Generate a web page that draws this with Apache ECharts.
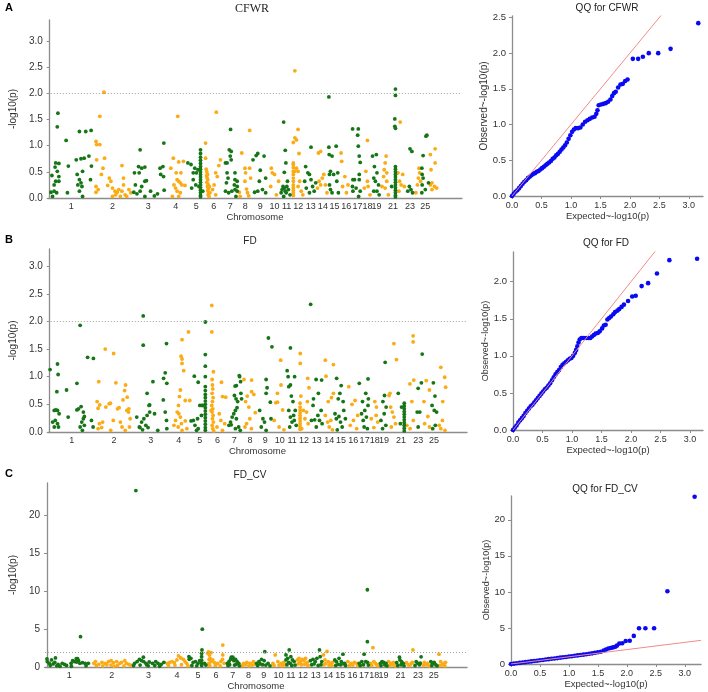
<!DOCTYPE html>
<html>
<head>
<meta charset="utf-8">
<title>Manhattan and QQ plots</title>
<script src="https://cdn.jsdelivr.net/npm/echarts@6/dist/echarts.min.js"></script>
<style>
  html, body { margin: 0; padding: 0; background: #fff; }
  #chart { width: 708px; height: 692px; }
</style>
</head>
<body>
<div id="chart"></div>
<script>
// chromosome lengths (Mb) and which chromosome numbers get a tick label
const chrLen = [273, 249, 204, 144, 114, 108, 99, 93, 96, 84, 69, 78, 81, 72, 75, 75, 66, 60, 54, 51, 54, 54, 51, 48, 48, 54]
const chrLabels = [1, 2, 3, 4, 5, 6, 7, 8, 9, 10, 11, 12, 13, 14, 15, 16, 17, 18, 19, 21, 23, 25]
const threshold = 2

// [chromosome, position (Mb), -log10(p)]
const cfwrSnps = [
  [1,52,1.62],[1,48,1.36],[1,104,1.10],[1,188,1.27],[1,228,1.27],[1,262,1.29],[1,38,0.67],[1,58,0.66],[1,34,0.59],[1,48,0.51],[1,58,0.41],[1,14,0.43],[1,38,0.32],[1,58,0.32],[1,28,0.25],[1,28,0.13],[1,8,0.11],[1,44,0.10],[1,112,0.10],[1,118,0.61],[1,168,0.73],[1,198,0.75],[1,218,0.76],[1,248,0.80],[1,264,0.61],[1,174,0.45],[1,208,0.51],[1,188,0.35],[1,198,0.29],[1,178,0.25],[1,204,0.22],[1,208,0.03],[1,188,0.13],[1,258,0.35],[1,18,0.03],
  [2,70,2.02],[2,44,1.56],[2,20,1.08],[2,24,1.02],[2,44,1.02],[2,74,0.76],[2,64,0.57],[2,54,0.45],[2,24,0.73],[2,20,0.22],[2,34,0.16],[2,20,0.11],[2,104,0.38],[2,114,0.32],[2,94,0.24],[2,124,0.19],[2,140,0.13],[2,154,0.11],[2,164,0.16],[2,184,0.62],[2,194,0.38],[2,194,0.25],[2,184,0.13],[2,204,0.06],[2,214,0.03],[2,228,0.16],[2,174,0.03],[2,124,0.03],[2,144,0.06],[2,240,0.10],
  [3,50,0.92],[3,14,0.48],[3,40,0.60],[3,60,0.57],[3,80,0.59],[3,44,0.48],[3,80,0.32],[3,90,0.33],[3,10,0.11],[3,30,0.08],[3,50,0.13],[3,80,0.03],[3,116,0.13],[3,140,0.04],[3,176,0.57],[3,180,0.45],[3,200,1.05],[3,194,0.60],[3,198,0.41],[3,20,0.25],[3,60,0.22],[3,202,0.15],[3,160,0.08],
  [4,84,1.56],[4,56,0.76],[4,90,0.69],[4,120,0.70],[4,40,0.57],[4,74,0.48],[4,104,0.48],[4,80,0.35],[4,90,0.32],[4,100,0.29],[4,110,0.25],[4,70,0.19],[4,80,0.13],[4,100,0.10],[4,50,0.03],[4,130,0.24],[4,90,0.03],[4,60,0.25],
  [5,4,0.67],[5,24,0.64],[5,38,0.48],[5,38,0.35],[5,28,0.19],[5,48,0.57],[5,68,0.54],[5,58,0.48],[5,54,0.25],[5,74,0.22],[5,84,0.92],[5,84,0.85],[5,84,0.78],[5,84,0.72],[5,84,0.66],[5,84,0.60],[5,84,0.55],[5,84,0.50],[5,84,0.45],[5,84,0.40],[5,84,0.35],[5,84,0.30],[5,84,0.25],[5,84,0.20],[5,84,0.15],[5,84,0.10],[5,84,0.05],[5,84,0.02],[5,98,0.13],
  [6,70,1.64],[6,2,1.05],[6,2,0.76],[6,6,0.55],[6,10,0.50],[6,14,0.45],[6,8,0.42],[6,12,0.38],[6,16,0.35],[6,10,0.30],[6,18,0.26],[6,14,0.22],[6,20,0.18],[6,16,0.14],[6,22,0.10],[6,18,0.06],[6,24,0.03],[6,56,0.25],[6,66,0.48],[6,86,0.62],[6,96,0.73],[6,76,0.41],[6,26,0.22],[6,30,0.10],[6,66,0.06],[6,46,0.16],
  [7,52,1.31],[7,44,0.92],[7,56,0.89],[7,50,0.80],[7,56,0.73],[7,20,0.67],[7,30,0.67],[7,80,0.48],[7,80,0.35],[7,76,0.25],[7,30,0.48],[7,36,0.38],[7,26,0.29],[7,20,0.13],[7,40,0.10],[7,60,0.13],[7,80,0.16],[7,86,0.03],[7,94,0.32],[7,94,0.22],[7,94,0.13],
  [8,74,1.29],[8,24,0.86],[8,44,0.57],[8,48,0.48],[8,44,0.32],[8,54,0.17],[8,74,0.57],[8,80,0.38],[8,8,0.11],[8,60,0.10],[8,68,0.04],[8,14,0.03],
  [9,32,0.85],[9,22,0.81],[9,2,0.73],[9,72,0.80],[9,48,0.53],[9,42,0.32],[9,82,0.38],[9,62,0.16],[9,32,0.13],[9,12,0.11],[9,82,0.10],
  [10,22,0.57],[10,42,0.45],[10,28,0.48],[10,68,0.32],[10,18,0.22],[10,54,0.06],
  [11,16,1.45],[11,26,0.91],[11,30,0.67],[11,20,0.49],[11,40,0.32],[11,12,0.22],[11,0,0.10],[11,6,0.16],[11,26,0.13],[11,36,0.22],[11,46,0.16],[11,16,0.03],[11,56,0.06],[11,32,0.10],[11,20,0.19],
  [12,18,2.43],[12,38,1.31],[12,18,1.15],[12,28,1.11],[12,8,1.06],[12,44,0.85],[12,8,0.67],[12,8,0.64],[12,8,0.58],[12,8,0.51],[12,8,0.45],[12,8,0.38],[12,8,0.32],[12,8,0.25],[12,8,0.20],[12,8,0.15],[12,8,0.10],[12,8,0.05],[12,28,0.57],[12,18,0.51],[12,38,0.51],[12,48,0.32],[12,58,0.13],[12,68,0.06],[12,38,0.22],
  [13,42,0.97],[13,8,0.60],[13,22,0.48],[13,32,0.45],[13,2,0.32],[13,12,0.19],[13,42,0.35],[13,52,0.22],[13,62,0.13],[13,72,0.29],[13,32,0.10],
  [14,22,0.89],[14,8,0.86],[14,32,0.38],[14,12,0.32],[14,42,0.45],[14,22,0.25],[14,2,0.19],[14,52,0.25],[14,62,0.10],
  [15,2,1.93],[15,2,0.97],[15,4,0.83],[15,22,0.80],[15,48,0.99],[15,12,0.51],[15,32,0.45],[15,58,0.48],[15,6,0.45],[15,6,0.25],[15,12,0.16],[15,22,0.10],[15,52,0.32],[15,62,0.10],
  [16,8,0.70],[16,4,0.86],[16,14,0.22],[16,38,0.10],[16,48,0.25],[16,28,0.41],
  [17,2,1.32],[17,38,1.32],[17,34,1.20],[17,38,0.99],[17,44,0.80],[17,50,0.68],[17,44,0.45],[17,44,0.35],[17,50,0.13],[17,4,0.35],[17,14,0.35],[17,24,0.19],[17,4,0.13],[17,1,0.22],[17,40,0.03],
  [18,30,1.10],[18,20,0.51],[18,30,0.32],[18,10,0.19],[18,34,0.22],[18,46,0.06],
  [19,26,0.83],[19,2,0.80],[19,14,0.60],[19,30,0.48],[19,10,0.38],[19,20,0.32],[19,40,0.25],[19,10,0.13],[19,30,0.13],[19,44,0.06],
  [20,34,0.80],[20,28,0.67],[20,22,0.54],[20,38,0.48],[20,18,0.41],[20,38,0.32],[20,28,0.19],[20,8,0.22],[20,48,0.06],
  [21,42,2.08],[21,42,1.96],[21,38,1.51],[21,38,1.37],[21,42,1.33],[21,42,0.60],[21,42,0.55],[21,42,0.50],[21,42,0.45],[21,42,0.40],[21,42,0.35],[21,42,0.30],[21,42,0.25],[21,42,0.20],[21,42,0.15],[21,42,0.10],[21,42,0.05],[21,42,0.02],[21,18,0.22],
  [22,18,1.45],[22,4,0.48],[22,14,0.32],[22,24,0.25],[22,34,0.45],[22,44,0.22],[22,10,0.13],
  [23,26,0.94],[23,38,0.89],[23,22,0.22],[23,32,0.16],[23,42,0.10],[23,12,0.13],
  [24,32,0.57],[24,36,0.48],[24,28,0.38],[24,42,0.32],[24,12,0.10],[24,22,0.25],
  [25,28,1.18],[25,34,1.20],[25,10,0.81],[25,2,0.57],[25,4,0.45],[25,10,0.38],[25,4,0.25],[25,2,0.10],[25,24,0.16],[25,44,0.29],
  [26,8,0.83],[26,38,0.94],[26,38,0.67],[26,12,0.54],[26,18,0.29],[26,8,0.25],[26,34,0.22],[26,48,0.19],[26,18,0.16]
]

const fdSnps = [
  [1,2,1.13],[1,48,1.23],[1,52,1.04],[1,44,0.73],[1,104,0.76],[1,168,0.88],[1,188,1.93],[1,234,1.35],[1,270,1.33],[1,28,0.39],[1,38,0.40],[1,48,0.39],[1,58,0.33],[1,18,0.18],[1,34,0.21],[1,48,0.15],[1,28,0.09],[1,54,0.09],[1,114,0.27],[1,168,0.40],[1,178,0.42],[1,194,0.46],[1,208,0.36],[1,214,0.28],[1,208,0.24],[1,198,0.18],[1,188,0.09],[1,202,0.03],[1,258,0.21],[1,268,0.09],[1,214,0.12],
  [2,20,0.55],[2,26,0.43],[2,36,0.49],[2,30,0.91],[2,70,1.50],[2,122,1.42],[2,102,0.52],[2,136,0.89],[2,180,0.58],[2,196,0.85],[2,206,0.63],[2,190,0.75],[2,156,0.44],[2,216,0.42],[2,34,0.15],[2,26,0.06],[2,54,0.18],[2,74,0.45],[2,94,0.51],[2,120,0.21],[2,146,0.42],[2,164,0.18],[2,174,0.09],[2,204,0.39],[2,214,0.36],[2,224,0.24],[2,194,0.03],[2,220,0.09],[2,104,0.03],[2,48,0.08],
  [3,56,2.10],[3,56,1.57],[3,80,0.70],[3,96,0.49],[3,116,0.91],[3,182,0.97],[3,192,1.07],[3,200,1.60],[3,202,0.88],[3,180,0.58],[3,16,0.27],[3,32,0.09],[3,46,0.18],[3,60,0.24],[3,80,0.30],[3,92,0.48],[3,96,0.36],[3,36,0.08],[3,52,0.04],[3,72,0.12],[3,86,0.08],[3,126,0.33],[3,146,0.03],[3,192,0.36],[3,200,0.21],[3,202,0.06],
  [4,92,1.67],[4,132,1.81],[4,86,1.37],[4,92,1.32],[4,92,1.24],[4,102,1.11],[4,76,0.64],[4,82,0.76],[4,52,0.21],[4,72,0.33],[4,68,0.09],[4,88,0.15],[4,112,0.20],[4,122,0.06],[4,92,0.03],[4,82,0.27],[4,42,0.12],[4,70,0.48],[4,62,0.36],[4,112,0.57],[4,140,0.57],
  [5,24,1.01],[5,48,0.90],[5,92,1.99],[5,92,1.40],[5,92,1.19],[5,92,1.00],[5,92,0.82],[5,92,0.75],[5,92,0.68],[5,92,0.62],[5,92,0.56],[5,92,0.50],[5,92,0.44],[5,92,0.38],[5,92,0.32],[5,92,0.26],[5,92,0.20],[5,92,0.14],[5,92,0.08],[5,92,0.03],[5,4,0.20],[5,18,0.21],[5,28,0.12],[5,44,0.24],[5,58,0.48],[5,68,0.30],[5,48,0.06],[5,38,0.03],[5,70,0.48],[5,76,0.48],
  [6,18,2.29],[6,18,1.81],[6,28,1.09],[6,78,0.90],[6,84,0.64],[6,104,0.63],[6,20,0.95],[6,22,0.85],[6,24,0.78],[6,20,0.70],[6,26,0.62],[6,22,0.55],[6,18,0.48],[6,24,0.42],[6,20,0.36],[6,26,0.30],[6,22,0.24],[6,28,0.18],[6,20,0.12],[6,24,0.06],[6,30,0.02],[6,14,0.39],[6,64,0.33],[6,74,0.21],[6,50,0.09],[6,84,0.03],[6,98,0.15],
  [7,80,1.02],[7,82,1.00],[7,88,0.91],[7,62,0.84],[7,54,0.83],[7,50,0.66],[7,60,0.60],[7,70,0.55],[7,16,0.12],[7,26,0.18],[7,36,0.27],[7,46,0.33],[7,56,0.39],[7,66,0.44],[7,62,0.24],[7,76,0.09],[7,56,0.06],[7,86,0.03],[7,90,0.70],[7,94,0.60],[7,30,0.13],
  [8,57,0.94],[8,57,0.73],[8,71,0.68],[8,26,0.15],[8,46,0.24],[8,56,0.06],[8,16,0.09],[8,20,0.55],[8,40,0.45],[8,80,0.35],[8,10,0.95],[8,30,0.65],
  [9,68,1.70],[9,90,1.54],[9,54,0.95],[9,54,0.70],[9,14,0.39],[9,34,0.24],[9,44,0.18],[9,24,0.09],[9,80,0.54],[9,84,0.24],[9,54,0.03],[9,60,0.80],
  [10,48,1.30],[10,18,0.53],[10,28,0.70],[10,28,0.54],[10,8,0.21],[10,68,0.04],[10,38,0.09],[10,50,0.85],[10,60,0.40],
  [11,24,1.52],[11,4,1.11],[11,10,1.00],[11,50,1.00],[11,24,0.85],[11,14,0.82],[11,14,0.39],[11,24,0.27],[11,34,0.18],[11,20,0.09],[11,44,0.30],[11,54,0.39],[11,48,0.21],[11,60,0.12],[11,30,0.65],[11,40,0.55],
  [12,16,1.42],[12,16,1.24],[12,62,0.97],[12,70,0.80],[12,15,0.52],[12,15,0.45],[12,15,0.40],[12,15,0.35],[12,15,0.30],[12,15,0.25],[12,15,0.20],[12,15,0.15],[12,15,0.10],[12,15,0.05],[12,35,0.39],[12,55,0.36],[12,45,0.24],[12,65,0.15],[12,25,0.06],[12,20,0.65],[12,60,0.55],
  [13,2,2.31],[13,36,0.95],[13,70,0.94],[13,17,0.48],[13,7,0.21],[13,27,0.22],[13,47,0.30],[13,67,0.39],[13,57,0.21],[13,37,0.09],[13,73,0.15],[13,20,0.60],[13,50,0.70],
  [14,12,1.30],[14,16,1.01],[14,62,1.22],[14,62,0.70],[14,12,0.30],[14,26,0.18],[14,36,0.09],[14,46,0.21],[14,56,0.04],[14,30,0.55],[14,50,0.62],
  [15,10,0.97],[15,38,0.84],[15,0,0.33],[15,8,0.24],[15,24,0.28],[15,34,0.18],[15,54,0.39],[15,64,0.24],[15,44,0.09],[15,14,0.04],[15,20,0.60],[15,50,0.55],[15,30,0.70],
  [16,10,0.82],[16,19,0.12],[16,49,0.57],[16,39,0.21],[16,59,0.06],[16,30,0.50],[16,65,0.30],
  [17,0,0.88],[17,54,0.96],[17,14,0.33],[17,24,0.21],[17,34,0.39],[17,44,0.27],[17,54,0.48],[17,30,0.09],[17,50,0.06],[17,40,0.70],[17,20,0.55],[17,56,0.60],
  [18,8,0.24],[18,38,0.30],[18,48,0.18],[18,24,0.08],[18,30,0.55],[18,40,0.45],
  [19,34,1.26],[19,8,0.21],[19,28,0.33],[19,38,0.12],[19,18,0.06],[19,20,0.55],[19,40,0.45],[19,30,0.66],
  [20,34,1.60],[20,50,1.31],[20,4,0.66],[20,14,0.45],[20,24,0.36],[20,34,0.27],[20,18,0.09],[20,44,0.15],[20,10,0.70],
  [21,47,0.52],[21,47,0.47],[21,47,0.42],[21,47,0.37],[21,47,0.32],[21,47,0.27],[21,47,0.22],[21,47,0.17],[21,47,0.12],[21,47,0.07],[21,47,0.02],[21,23,0.15],[21,10,0.70],[21,30,0.45],
  [22,48,1.74],[22,48,1.63],[22,28,0.87],[22,52,0.94],[22,9,0.12],[22,29,0.06],[22,49,0.21],[22,40,0.55],
  [23,50,1.41],[23,25,0.79],[23,45,0.89],[23,19,0.36],[23,35,0.36],[23,25,0.09],
  [24,24,0.93],[24,44,0.76],[24,14,0.15],[24,34,0.28],[24,44,0.09],[24,10,0.55],
  [25,20,0.89],[25,12,0.48],[25,26,0.39],[25,40,0.36],[25,16,0.06],[25,32,0.12],[25,30,0.65],
  [26,18,1.17],[26,42,0.99],[26,48,0.81],[26,8,0.12],[26,28,0.21],[26,44,0.03],[26,18,0.06],[26,30,0.55]
]

const fdcvSnps = [
  [1,2,0.71],[1,14,0.49],[1,28,0.93],[1,38,0.40],[1,48,0.62],[1,68,0.35],[1,94,0.49],[1,108,0.35],[1,148,0.49],[1,158,0.84],[1,168,0.71],[1,182,0.66],[1,194,0.84],[1,202,0.49],[1,218,0.57],[1,234,0.49],[1,254,0.49],[1,206,4.0],[1,0,1.06],[1,52,1.2],[1,180,1.1],[1,188,1.1],[1,20,0.2],[1,60,0.15],[1,120,0.2],[1,240,0.15],[1,80,0.1],[1,150,0.1],
  [2,15,0.49],[2,25,0.71],[2,45,0.35],[2,65,0.62],[2,85,0.49],[2,105,0.71],[2,121,0.84],[2,135,0.57],[2,155,0.71],[2,175,0.49],[2,185,0.62],[2,205,0.84],[2,215,0.49],[2,229,0.35],[2,30,0.2],[2,70,0.15],[2,120,0.25],[2,160,0.2],[2,200,0.15],[2,240,0.25],[2,95,0.3],[2,140,0.1],
  [3,16,0.49],[3,24,23.3],[3,32,0.71],[3,46,1.01],[3,60,0.84],[3,70,1.3],[3,72,0.71],[3,86,0.49],[3,106,0.66],[3,126,0.49],[3,146,0.71],[3,160,0.49],[3,180,0.35],[3,196,0.62],[3,10,0.2],[3,50,0.25],[3,100,0.15],[3,140,0.2],[3,170,0.1],[3,90,0.3],
  [4,12,0.49],[4,28,0.62],[4,42,0.71],[4,56,0.57],[4,72,0.93],[4,82,1.46],[4,96,1.19],[4,112,1.01],[4,122,0.71],[4,132,0.49],[4,20,0.2],[4,60,0.25],[4,100,0.3],[4,140,0.15],
  [5,2,1.37],[5,4,1.01],[5,14,1.15],[5,28,0.62],[5,42,0.71],[5,58,0.49],[5,68,0.84],[5,80,0.5],[5,80,0.9],[5,80,1.37],[5,80,1.8],[5,82,2.25],[5,84,5.0],[5,80,0.2],[5,98,0.49],[5,20,0.2],[5,50,0.15],[5,106,0.25],
  [6,4,1.8],[6,8,2.0],[6,14,1.57],[6,18,1.15],[6,24,0.71],[6,10,0.49],[6,12,1.0],[6,6,0.3],[6,16,0.2],[6,24,1.9],[6,34,0.93],[6,44,0.57],[6,64,0.49],[6,84,0.71],[6,94,1.01],[6,96,2.9],[6,96,1.6],[6,104,0.49],[6,50,0.2],[6,80,0.15],
  [7,16,0.49],[7,26,0.71],[7,36,1.01],[7,46,1.15],[7,56,0.84],[7,66,1.01],[7,76,0.71],[7,86,0.49],[7,40,1.3],[7,50,1.3],[7,20,0.2],[7,60,0.25],[7,90,0.15],[7,30,0.3],[7,70,0.35],
  [8,17,0.49],[8,37,0.62],[8,57,0.49],[8,77,0.71],[8,10,0.2],[8,30,0.3],[8,50,0.15],[8,70,0.25],[8,88,0.35],
  [9,4,0.49],[9,18,0.71],[9,34,1.01],[9,50,0.84],[9,54,2.03],[9,74,0.49],[9,10,0.2],[9,40,0.3],[9,60,0.25],[9,86,0.15],[9,26,0.4],
  [10,8,0.49],[10,22,1.6],[10,38,0.71],[10,58,0.49],[10,74,0.62],[10,15,0.2],[10,45,0.25],[10,65,0.15],[10,80,0.3],
  [11,4,0.93],[11,14,1.15],[11,24,2.25],[11,34,1.37],[11,44,0.93],[11,54,0.71],[11,30,0.49],[11,4,1.6],[11,10,0.3],[11,40,0.2],[11,60,0.25],[11,20,0.6],
  [12,5,0.93],[12,15,1.15],[12,25,0.71],[12,35,1.01],[12,45,0.84],[12,55,1.15],[12,65,0.62],[12,10,0.4],[12,30,0.3],[12,50,0.35],[12,70,0.2],[12,20,0.55],[12,60,0.45],
  [13,7,0.84],[13,23,1.01],[13,37,0.71],[13,47,1.15],[13,63,2.25],[13,67,1.37],[13,77,0.71],[13,15,0.3],[13,30,0.4],[13,55,0.2],[13,72,0.3],
  [14,6,1.6],[14,16,0.93],[14,28,2.05],[14,36,0.71],[14,52,0.49],[14,62,0.62],[14,10,0.3],[14,40,0.25],[14,58,0.2],[14,20,0.45],
  [15,4,0.93],[15,14,0.71],[15,30,1.15],[15,44,0.71],[15,54,1.7],[15,64,0.49],[15,10,0.2],[15,24,0.35],[15,40,0.3],[15,70,0.2],[15,60,0.4],
  [16,9,0.71],[16,29,0.49],[16,49,0.62],[16,63,0.49],[16,20,0.2],[16,40,0.25],[16,70,0.15],
  [17,4,0.49],[17,20,0.71],[17,34,1.7],[17,44,0.71],[17,54,3.35],[17,54,10.2],[17,54,0.62],[17,10,0.2],[17,30,0.3],[17,60,0.25],
  [18,8,0.49],[18,22,2.55],[18,28,0.71],[18,38,0.49],[18,15,0.2],[18,45,0.3],[18,52,0.15],
  [19,8,0.49],[19,18,0.71],[19,28,0.62],[19,42,0.49],[19,12,0.2],[19,35,0.3],[19,48,0.15],
  [20,4,0.71],[20,20,0.49],[20,34,0.62],[20,10,0.2],[20,28,0.3],[20,44,0.15],
  [21,3,0.57],[21,23,0.93],[21,33,0.71],[21,43,0.49],[21,20,1.3],[21,10,0.2],[21,30,0.3],[21,48,0.15],
  [22,9,0.57],[22,39,0.49],[22,49,2.25],[22,20,0.3],[22,30,0.2],[22,45,0.6],
  [23,15,0.71],[23,25,0.49],[23,45,1.35],[23,8,0.2],[23,35,0.3],[23,40,0.5],
  [24,14,0.62],[24,34,0.49],[24,8,0.2],[24,24,0.3],[24,42,0.15],
  [25,6,0.71],[25,16,0.49],[25,26,0.62],[25,12,0.2],[25,36,0.3],[25,44,0.15],
  [26,8,1.7],[26,18,0.71],[26,38,0.49],[26,48,0.62],[26,12,0.2],[26,28,0.3],[26,44,0.15]
]

// QQ points: [expected -log10(p), observed -log10(p)]
const qqCfwr = [
  [0,0],[0.03,0.03],[0.06,0.06],[0.09,0.08],[0.12,0.11],[0.15,0.14],[0.18,0.17],[0.21,0.20],[0.24,0.22],[0.27,0.25],[0.30,0.27],[0.33,0.29],[0.36,0.31],[0.39,0.32],[0.42,0.34],[0.45,0.35],[0.48,0.37],[0.51,0.39],[0.54,0.41],[0.57,0.43],[0.60,0.45],[0.63,0.47],[0.66,0.49],[0.69,0.52],[0.72,0.54],[0.75,0.57],[0.78,0.59],[0.81,0.62],[0.84,0.65],[0.87,0.68],[0.90,0.71],[0.93,0.75],[0.96,0.80],[0.99,0.85],[1.02,0.90],[1.05,0.93],[1.08,0.95],[1.12,0.95],[1.16,0.96],[1.20,1.00],[1.24,1.04],[1.28,1.06],[1.32,1.08],[1.36,1.10],[1.40,1.11],[1.43,1.15],[1.45,1.20],[1.47,1.27],[1.51,1.28],[1.55,1.29],[1.59,1.30],[1.63,1.32],[1.67,1.35],[1.70,1.40],[1.73,1.44],[1.76,1.46],[1.80,1.52],[1.84,1.56],[1.88,1.57],[1.92,1.61],[1.96,1.63],[2.05,1.92],[2.14,1.92],[2.22,1.95],[2.32,2.00],[2.48,2.00],[2.69,2.06],[3.16,2.42]
]
const qqFd = [
  [0,0],[0.03,0.03],[0.06,0.06],[0.09,0.10],[0.12,0.13],[0.15,0.16],[0.18,0.19],[0.21,0.23],[0.24,0.26],[0.27,0.29],[0.30,0.32],[0.33,0.34],[0.36,0.37],[0.39,0.40],[0.42,0.43],[0.45,0.46],[0.48,0.49],[0.51,0.52],[0.54,0.55],[0.57,0.57],[0.60,0.60],[0.63,0.63],[0.66,0.67],[0.69,0.71],[0.72,0.75],[0.75,0.78],[0.78,0.81],[0.81,0.85],[0.84,0.88],[0.87,0.90],[0.90,0.92],[0.93,0.94],[0.96,0.96],[0.99,0.97],[1.02,1.00],[1.05,1.04],[1.07,1.08],[1.09,1.13],[1.11,1.18],[1.13,1.22],[1.16,1.24],[1.20,1.24],[1.24,1.24],[1.28,1.24],[1.31,1.24],[1.34,1.26],[1.37,1.28],[1.40,1.30],[1.44,1.31],[1.47,1.33],[1.51,1.37],[1.54,1.41],[1.57,1.42],[1.60,1.49],[1.63,1.51],[1.66,1.53],[1.70,1.56],[1.73,1.59],[1.77,1.61],[1.80,1.63],[1.84,1.66],[1.88,1.69],[1.95,1.74],[2.02,1.80],[2.08,1.81],[2.18,1.94],[2.29,1.98],[2.44,2.11],[2.65,2.29],[3.12,2.31]
]
const qqFdcv = [
  [0,0],[0.05,0.05],[0.1,0.1],[0.15,0.15],[0.2,0.2],[0.25,0.26],[0.3,0.31],[0.35,0.36],[0.4,0.41],[0.45,0.46],[0.5,0.51],[0.55,0.56],[0.6,0.62],[0.65,0.67],[0.7,0.72],[0.75,0.77],[0.8,0.82],[0.85,0.88],[0.9,0.93],[0.95,0.98],[1.0,1.03],[1.05,1.08],[1.1,1.14],[1.15,1.19],[1.2,1.25],[1.25,1.3],[1.3,1.36],[1.35,1.42],[1.4,1.48],[1.45,1.55],[1.5,1.62],[1.55,1.7],[1.6,1.85],[1.64,2.0],[1.68,2.15],[1.72,2.22],[1.76,2.3],[1.8,2.4],[1.83,2.55],[1.87,2.85],[1.92,2.88],[1.98,3.2],[2.05,3.22],[2.12,3.9],[2.21,4.95],[2.32,4.95],[2.47,4.95],[2.7,10.1],[3.17,23.2]
]

const GREEN = '#167516'
const ORANGE = '#fbab14'
const BLUE = '#0a0af2'
const FONT = 'Liberation Sans'

const chrStart = []
let acc = 0
chrLen.forEach(l => { chrStart.push(acc); acc += l })
const chrMid = chrLen.map((l, i) => chrStart[i] + l / 2)

function toXY (rows, odd) {
  return rows.filter(r => (r[0] % 2 === 1) === odd).map(r => [chrStart[r[0] - 1] + r[1], r[2]])
}

const panels = [
  { snps: cfwrSnps, qq: qqCfwr, title: 'CFWR', letter: 'A', serif: true,
    man: { left: 35, top: 20, width: 427, height: 178, xMax: 2608, yMax: 3.4, yTicks: [0, 0.5, 1, 1.5, 2, 2.5, 3] },
    qqg: { left: 512, top: 16, width: 191, height: 180, xMax: 3.24, yMax: 2.52, yTicks: [0, 0.5, 1, 1.5, 2, 2.5] },
    pos: { letter: [9, 8], title: [252, 9], qqTitle: [607, 8] } },
  { snps: fdSnps, qq: qqFd, title: 'FD', letter: 'B',
    man: { left: 35, top: 249, width: 432, height: 183, xMax: 2580, yMax: 3.31, yTicks: [0, 0.5, 1, 1.5, 2, 2.5, 3] },
    qqg: { left: 513, top: 252, width: 190, height: 178, xMax: 3.22, yMax: 2.4, yTicks: [0, 0.5, 1, 1.5, 2] },
    pos: { letter: [9, 240], title: [250, 241], qqTitle: [606, 243] } },
  { snps: fdcvSnps, qq: qqFdcv, title: 'FD_CV', letter: 'C',
    man: { left: 35, top: 483, width: 432, height: 184, xMax: 2580, yMax: 24.3, yTicks: [0, 5, 10, 15, 20] },
    qqg: { left: 511, top: 496, width: 190, height: 168, xMax: 3.28, yMax: 23.3, yTicks: [0, 5, 10, 15, 20] },
    pos: { letter: [9, 474], title: [250, 475], qqTitle: [605, 489] } }
]

const axisLine = { lineStyle: { color: '#8c8c8c', width: 1.3 } }
const grid = []
const xAxis = []
const yAxis = []
const series = []
const graphic = []

panels.forEach((p, k) => {
  const gm = k * 2
  const gq = k * 2 + 1
  grid.push({ left: p.man.left, top: p.man.top, width: p.man.width, height: p.man.height })
  grid.push({ left: p.qqg.left, top: p.qqg.top, width: p.qqg.width, height: p.qqg.height })

  // manhattan axes
  xAxis.push({
    gridIndex: gm, type: 'value', min: -12, max: p.man.xMax,
    splitLine: { show: false }, axisLine: axisLine, axisTick: { show: false },
    axisLabel: {
      customValues: chrLabels.map(c => chrMid[c - 1]),
      formatter: v => { const i = chrMid.findIndex(m => Math.abs(m - v) < 1e-6); return i >= 0 ? String(i + 1) : '' },
      fontSize: 9, fontFamily: FONT, color: '#333', margin: 4, hideOverlap: false
    },
    name: 'Chromosome', nameLocation: 'middle', nameGap: 12,
    nameTextStyle: { fontSize: 9.5, fontFamily: FONT, color: '#333' }
  })
  yAxis.push({
    gridIndex: gm, type: 'value', min: 0, max: p.man.yMax,
    splitLine: { show: false }, axisLine: axisLine,
    axisTick: { customValues: p.man.yTicks, length: 3, lineStyle: { color: '#8c8c8c' } },
    axisLabel: {
      customValues: p.man.yTicks,
      formatter: v => (k === 2 ? String(v) : v.toFixed(1)),
      fontSize: 10, fontFamily: FONT, color: '#333', margin: 5
    },
    name: '-log10(p)', nameLocation: 'middle', nameGap: 20,
    nameTextStyle: { fontSize: 10, fontFamily: FONT, color: '#333' }
  })

  // qq axes
  const qqX = [0, 0.5, 1, 1.5, 2, 2.5, 3]
  xAxis.push({
    gridIndex: gq, type: 'value', min: 0, max: p.qqg.xMax,
    splitLine: { show: false }, axisLine: axisLine,
    axisTick: { customValues: qqX, length: 3, lineStyle: { color: '#8c8c8c' } },
    axisLabel: { customValues: qqX, formatter: v => v.toFixed(1), fontSize: 9, fontFamily: FONT, color: '#333', margin: 5 },
    name: 'Expected~-log10(p)', nameLocation: 'middle', nameGap: 15,
    nameTextStyle: { fontSize: 9.5, fontFamily: FONT, color: '#333' }
  })
  yAxis.push({
    gridIndex: gq, type: 'value', min: 0, max: p.qqg.yMax,
    splitLine: { show: false }, axisLine: axisLine,
    axisTick: { customValues: p.qqg.yTicks, length: 3, lineStyle: { color: '#8c8c8c' } },
    axisLabel: {
      customValues: p.qqg.yTicks,
      formatter: v => (k === 2 ? String(v) : v.toFixed(1)),
      fontSize: 9.5, fontFamily: FONT, color: '#333', margin: 6
    },
    name: 'Observed~-log10(p)', nameLocation: 'middle', nameGap: 19,
    nameTextStyle: { fontSize: k === 0 ? 10 : 9, fontFamily: FONT, color: '#333' }
  })

  series.push({
    type: 'scatter', xAxisIndex: gm, yAxisIndex: gm, symbolSize: 3.8,
    itemStyle: { color: ORANGE, opacity: 1 }, data: toXY(p.snps, false)
  })
  series.push({
    type: 'scatter', xAxisIndex: gm, yAxisIndex: gm, symbolSize: 3.8,
    itemStyle: { color: GREEN, opacity: 1 }, data: toXY(p.snps, true),
    markLine: {
      silent: true, symbol: ['none', 'none'], label: { show: false },
      lineStyle: { type: [1, 2], color: '#a0a0a0', width: 1 },
      data: [{ yAxis: threshold }]
    }
  })
  series.push({
    type: 'line', xAxisIndex: gq, yAxisIndex: gq, showSymbol: false, silent: true,
    lineStyle: { color: '#f28a8a', width: 1 }, clip: true,
    data: [[0, 0], [p.qqg.xMax, p.qqg.xMax]]
  })
  series.push({
    type: 'scatter', xAxisIndex: gq, yAxisIndex: gq, symbolSize: 4.6,
    itemStyle: { color: BLUE, opacity: 1 }, data: p.qq
  })

  graphic.push({
    type: 'text', x: p.pos.letter[0], y: p.pos.letter[1],
    style: { text: p.letter, font: 'bold 11px ' + FONT, fill: '#000', align: 'center', verticalAlign: 'middle' }
  })
  graphic.push({
    type: 'text', x: p.pos.title[0], y: p.pos.title[1],
    style: { text: p.title, font: p.serif ? '12px Liberation Serif' : '10px ' + FONT, fill: '#222', align: 'center', verticalAlign: 'middle' }
  })
  graphic.push({
    type: 'text', x: p.pos.qqTitle[0], y: p.pos.qqTitle[1],
    style: { text: 'QQ for ' + p.title, font: '10px ' + FONT, fill: '#222', align: 'center', verticalAlign: 'middle' }
  })
})

const chart = echarts.init(document.getElementById('chart'), null, { renderer: 'canvas' })
chart.setOption({
  animation: false,
  backgroundColor: '#fff',
  grid: grid,
  xAxis: xAxis,
  yAxis: yAxis,
  series: series,
  graphic: graphic
})
</script>
</body>
</html>
